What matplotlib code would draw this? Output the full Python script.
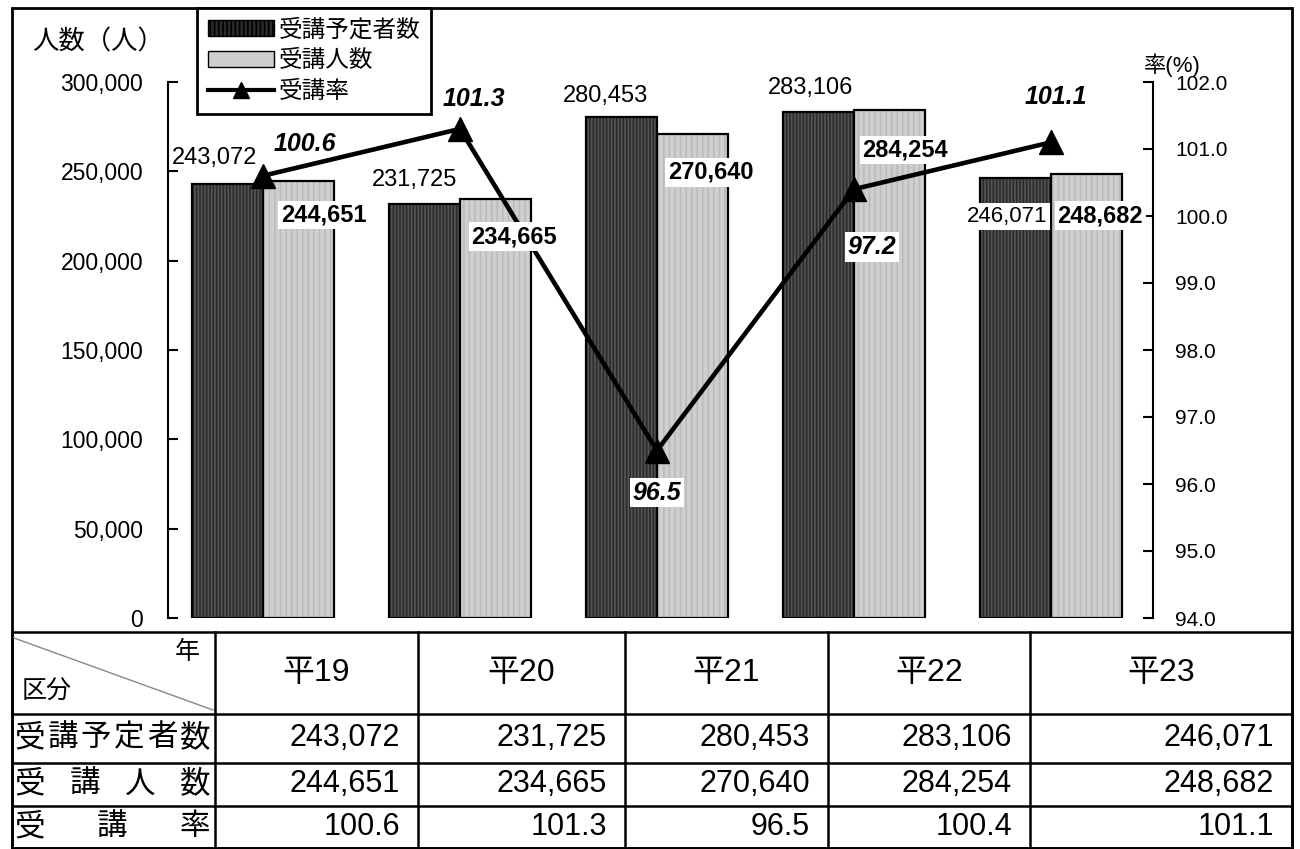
import numpy as np
import matplotlib
matplotlib.use('Agg')
import matplotlib.pyplot as plt
from matplotlib.patches import Patch, Rectangle
from matplotlib.lines import Line2D

plt.rcParams['font.family'] = ['Liberation Sans', 'Noto Sans CJK JP']
plt.rcParams['hatch.linewidth'] = 1.2

# データ
years = ['平19', '平20', '平21', '平22', '平23']
planned = [243072, 231725, 280453, 283106, 246071]    # 受講予定者数
attended = [244651, 234665, 270640, 284254, 248682]   # 受講人数
rate = [100.6, 101.3, 96.5, 100.4, 101.1]             # 受講率
rate_labels = ['100.6', '101.3', '96.5', '97.2', '101.1']  # グラフ中の表記そのまま
row_names = ['受講予定者数', '受講人数', '受講率']
left_ticks = [0, 50000, 100000, 150000, 200000, 250000, 300000]
right_ticks = [94, 95, 96, 97, 98, 99, 100, 101, 102]

W, H = 1300, 849
fig = plt.figure(figsize=(13, 8.49), dpi=100)


def px_rect(l, t, r, b):
    return [l / W, 1 - b / H, (r - l) / W, (b - t) / H]


# 棒グラフ
ax = fig.add_axes(px_rect(168, 82, 1153, 618))
x = np.arange(len(years))
w = 0.36
ax.bar(x - w, planned, w, align='edge', color='#2a2a2a', hatch='|||||', edgecolor='#555555', lw=0)
ax.bar(x - w, planned, w, align='edge', fill=False, edgecolor='black', lw=1.6)
ax.bar(x, attended, w, align='edge', color='#cdd0cf', hatch='|||', edgecolor='#b9bcbb', lw=0)
ax.bar(x, attended, w, align='edge', fill=False, edgecolor='black', lw=1.6)
ax.set_xlim(-0.482, 4.518)
ax.set_ylim(0, 300000)
ax.set_yticks(left_ticks)
ax.set_yticklabels([f'{v:,}' for v in left_ticks], fontsize=16.5)
ax.set_xticks([])
ax.tick_params(axis='y', direction='in', length=7, width=1.5, pad=18)
for s in ['top', 'bottom', 'right']:
    ax.spines[s].set_visible(False)
ax.spines['left'].set_linewidth(1.5)

# 受講率（右軸）
ax2 = ax.twinx()
ax2.plot(x, rate, color='black', lw=3.3, marker='^', ms=17, zorder=3)
ax2.set_ylim(94, 102)
ax2.set_yticks(right_ticks)
ax2.set_yticklabels([f'{v:.1f}' for v in right_ticks], fontsize=15)
ax2.tick_params(axis='y', direction='in', length=7, width=1.5, pad=16)
for s in ['top', 'bottom', 'left']:
    ax2.spines[s].set_visible(False)
ax2.spines['right'].set_linewidth(1.5)

# ラベル位置（ピクセル、上がプラス）
planned_off = [(-13, 26), (-10, 24), (-16, 21), (-8, 24), (-8, -38)]
attended_off = [(25, -34), (19, -38), (18, -38), (16, -40), (14, -42)]
rate_off = [(42, 32), (14, 30), (0, -42), (18, -58), (5, 45)]
rate_box = [False, False, True, True, False]
planned_box = [False, False, False, False, True]
white = dict(facecolor='white', edgecolor='none', pad=2)

for i in range(len(years)):
    ax2.annotate(f'{planned[i]:,}', xy=(x[i] - w / 2, planned[i]), xycoords=ax.transData,
                 xytext=planned_off[i], textcoords='offset pixels',
                 ha='center', va='center', fontsize=17 if i < 4 else 16,
                 bbox=white if planned_box[i] else None, zorder=5)
    ax2.annotate(f'{attended[i]:,}', xy=(x[i] + w / 2, attended[i]), xycoords=ax.transData,
                 xytext=attended_off[i], textcoords='offset pixels',
                 ha='center', va='center', fontsize=17, fontweight='bold',
                 bbox=white, zorder=6)
    ax2.annotate(rate_labels[i], xy=(x[i], rate[i]),
                 xytext=rate_off[i], textcoords='offset pixels',
                 ha='center', va='center', fontsize=18, fontweight='bold', style='italic',
                 bbox=white if rate_box[i] else None, zorder=5)

fig.text(98 / W, 1 - 42 / H, '人数（人）', ha='center', va='center', fontsize=19)
fig.text(1172 / W, 1 - 65 / H, '率(%)', ha='center', va='center', fontsize=16)

# 凡例
handles = [Patch(facecolor='#2a2a2a', edgecolor='black', hatch='||||'),
           Patch(facecolor='#cdd0cf', edgecolor='black'),
           Line2D([], [], color='black', lw=3, marker='^', ms=12)]
leg = fig.legend(handles, ['受講予定者数', '受講人数', '受講率'], loc='upper left',
                 bbox_to_anchor=(197 / W, 1 - 8 / H), borderaxespad=0, fontsize=17,
                 handlelength=2.8, handletextpad=0.2, labelspacing=0.38, borderpad=0.45,
                 fancybox=False, edgecolor='black', framealpha=1)
leg.get_frame().set_linewidth(2)

# 表と外枠
tab = fig.add_axes([0, 0, 1, 1], zorder=-1)
tab.set_xlim(0, W)
tab.set_ylim(H, 0)
tab.axis('off')
tab.add_patch(Rectangle((12, 8), 1280, 840, fill=False, lw=2, ec='black'))
col_x = [12, 215, 418, 625, 828, 1030, 1292]
row_y = [632, 714, 763, 806, 848]
for yy in row_y:
    tab.plot([12, 1292], [yy, yy], color='black', lw=1.8)
for xx in col_x:
    tab.plot([xx, xx], [632, 848], color='black', lw=1.8)
tab.plot([14, 213], [638, 710], color='#888888', lw=1)
tab.text(187, 652, '年', ha='center', va='center', fontsize=18)
tab.text(22, 692, '区分', ha='left', va='center', fontsize=18)

for j, yr in enumerate(years):
    cx = (col_x[j + 1] + col_x[j + 2]) / 2
    tab.text(cx, (row_y[0] + row_y[1]) / 2, yr, ha='center', va='center', fontsize=23)

table_rows = [[f'{v:,}' for v in planned],
              [f'{v:,}' for v in attended],
              [f'{v:.1f}' for v in rate]]
for r in range(3):
    cy = (row_y[r + 1] + row_y[r + 2]) / 2
    name = row_names[r]
    cs = np.linspace(30, 195, len(name))
    for ch, cx in zip(name, cs):
        tab.text(cx, cy, ch, ha='center', va='center', fontsize=22)
    for j in range(len(years)):
        tab.text(col_x[j + 2] - 18, cy, table_rows[r][j], ha='right', va='center', fontsize=22)

fig.savefig('out.png', dpi=100)
